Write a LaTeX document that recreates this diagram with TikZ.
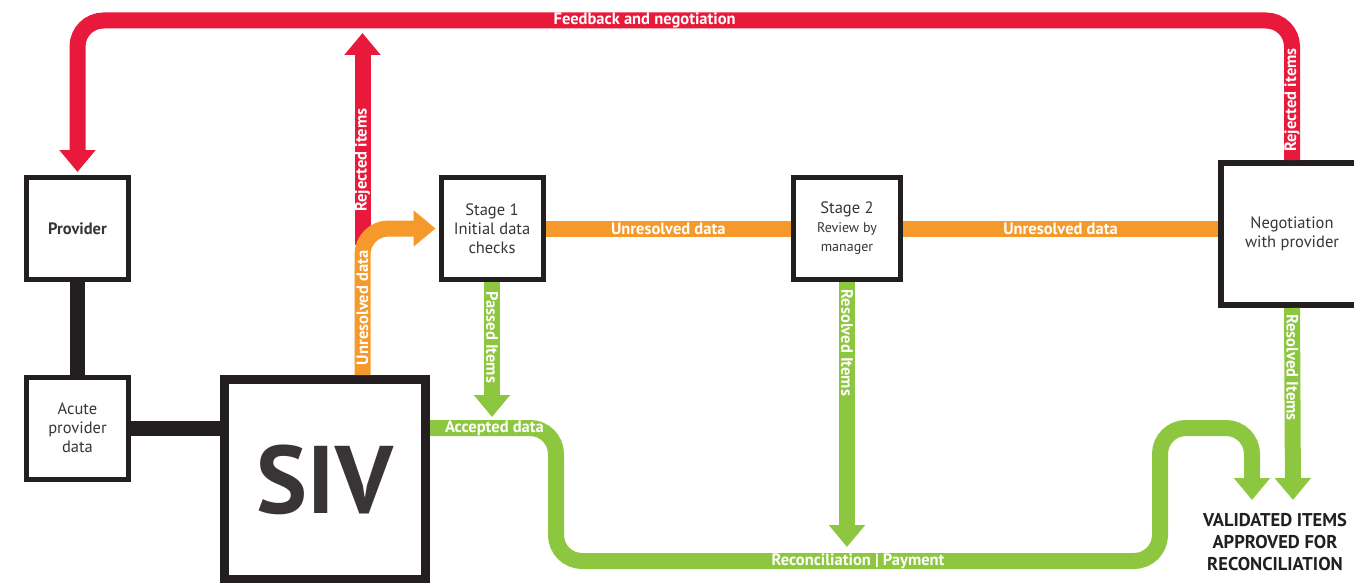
\documentclass[tikz,border=0pt]{standalone}
\usepackage{fontspec}
\setmainfont{PT Sans}
\usetikzlibrary{arrows.meta}
\definecolor{ink}{HTML}{231F20}
\definecolor{fbred}{HTML}{E8193A}
\definecolor{unres}{HTML}{F4992A}
\definecolor{passg}{HTML}{8DC63F}
\newcommand{\tagfont}{\fontsize{16.5}{17}\selectfont\bfseries}
\newcommand{\boxfont}{\fontsize{16.5}{19}\selectfont}
\tikzstyle{block} = [rectangle, draw=ink, line width=5pt, fill=white, align=center,
    text=ink!90, font=\boxfont, minimum width=102pt, minimum height=102pt, inner sep=2pt]
\tikzstyle{link} = [draw=ink, line width=15pt]
\tikzstyle{flow} = [draw, line width=16pt, rounded corners=26pt, ->]
\tikzstyle{redline} = [flow, draw=fbred]
\tikzstyle{orangeline} = [flow, draw=unres]
\tikzstyle{greenline} = [flow, draw=passg]
\tikzstyle{tag} = [text=white, inner sep=0pt, font=\tagfont]

\begin{document}
\begin{tikzpicture}[x=1pt, y=-1pt, >={Triangle[length=22pt, width=35pt]}]
    \useasboundingbox (0,0) rectangle (1354,583);

    \node [block] (prov) at (77.5,228.5) {\textbf{Provider}};
    \node [block, below of=prov, node distance=199.5pt] (acute) {Acute\\provider\\data};
    \node [block, line width=9pt, minimum width=201pt, minimum height=200pt] (siv) at (325,479.5)
        {\fontsize{96}{96}\selectfont\bfseries SIV};
    \node [block] (s1) at (492,228.5) {Stage 1\\Initial data\\checks};
    \node [block, right of=s1, node distance=355pt, minimum width=107pt] (s2)
        {Stage 2\\{\fontsize{14}{17}\selectfont Review by}\\{\fontsize{14}{17}\selectfont manager}};
    \node [block, line width=6pt, minimum width=142pt, minimum height=142pt] (neg) at (1292,234)
        {Negotiation\\with provider};
    \node [align=center, text=ink, font=\fontsize{18.5}{22}\selectfont\bfseries] (valid) at (1275,542)
        {VALIDATED ITEMS\\APPROVED FOR\\RECONCILIATION};

    \coordinate (fbtop) at (0,20.5);
    \coordinate (split) at (362.5,245);
    \coordinate (rejtip) at (362.5,33);
    \coordinate (acc) at (0,428);
    \coordinate (passtip) at (0,417);
    \coordinate (rectip) at (0,547);
    \coordinate (vtipA) at (1252,500);
    \coordinate (vtipB) at (1293,500);

    \path [link] (prov) -- (acute);
    \path [link] (acute) -- (acute -| siv.west);

    \path [redline, shorten >=3pt] (neg.north)
        -- node [tag, rotate=90, pos=0.43] {Rejected items} (neg.north |- fbtop)
        -- node [tag, pos=0.533] {Feedback and negotiation} (prov.north |- fbtop) -- (prov.north);
    \path [redline] (split) -- node [tag, rotate=90, pos=0.4] {Rejected items} (rejtip);
    \path [orangeline, shorten >=3pt] (siv.north -| split)
        |- node [tag, rotate=90, pos=0.229] {Unresolved data} (s1.west);
    \path [orangeline, -] (s1) -- node [tag] {Unresolved data} (s2);
    \path [orangeline, -] (s2.east) -- node [tag] {Unresolved data} (s2.east -| neg.west);

    \path [greenline] (s1.south) -- node [tag, rotate=-90, pos=0.41] {Passed Items} (s1.south |- passtip);
    \path [greenline] (s2.south) -- node [tag, rotate=-90, pos=0.23] {Resolved Items} (s2.south |- rectip);
    \path [greenline] (neg.south) -- node [tag, rotate=-90, pos=0.31] {Resolved Items} (vtipB);
    \path [greenline] (siv.east |- acc) -- node [tag, anchor=west, pos=0, xshift=7pt] {Accepted data} (556,428)
        -- (556,561) -- node [tag] {Reconciliation | Payment} (1160,561) -- (1160,428) -- (1252,428) -- (vtipA);

\end{tikzpicture}
\end{document}
